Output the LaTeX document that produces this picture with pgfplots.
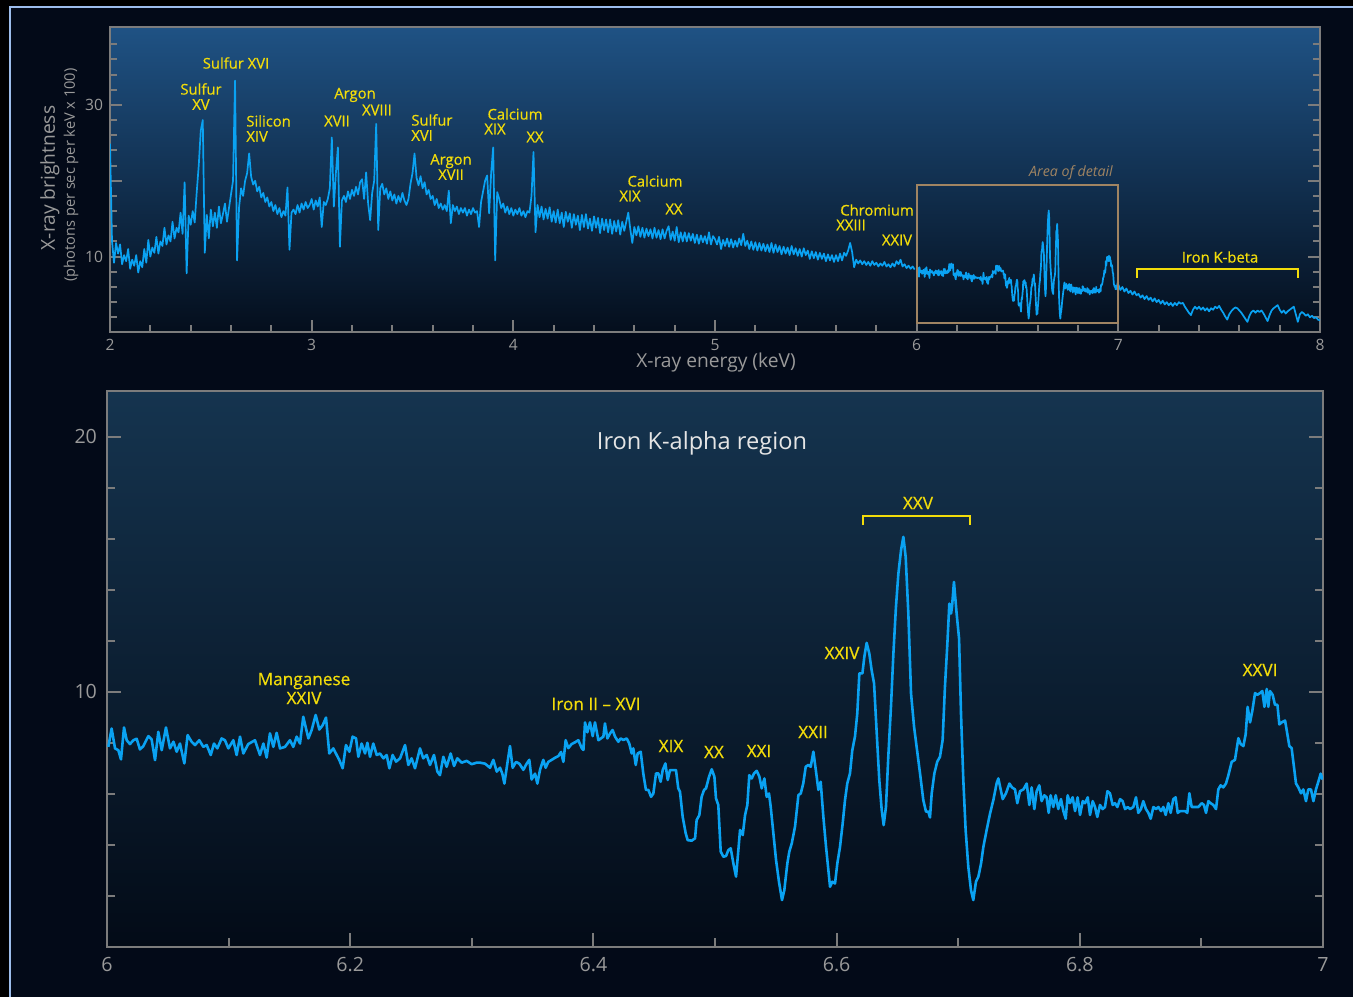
\documentclass[border=0pt]{standalone}
\usepackage{fontspec}
\setmainfont{Open Sans}
\newfontfamily\annfont{Open Sans}[FakeBold=0.5]
\usepackage{pgfplots}
\pgfplotsset{compat=1.18}
\usepackage{pgfplotstable}
\definecolor{bginner}{HTML}{030A18}
\definecolor{framec}{HTML}{9DBDEB}
\definecolor{axgray}{HTML}{7C7C7C}
\definecolor{tickgray}{HTML}{9A9A9A}
\definecolor{spec}{HTML}{0AA2F2}
\definecolor{ann}{HTML}{F2DC0A}
\definecolor{boxc}{HTML}{A08462}
\definecolor{toptop}{HTML}{1F5284}
\definecolor{topbot}{HTML}{040E1C}
\definecolor{lowtop}{HTML}{15344F}
\definecolor{lowbot}{HTML}{030B17}

\pgfplotstableread{
x y
2.00 24.9
2.01 12.0
2.02 9.2
2.03 11.8
2.04 10.4
2.05 11.6
2.06 9.0
2.07 10.2
2.08 9.4
2.09 11.0
2.10 8.4
2.11 9.6
2.12 8.8
2.13 10.2
2.14 7.9
2.15 9.4
2.16 8.6
2.17 11.0
2.18 9.2
2.19 12.2
2.20 10.0
2.21 11.2
2.22 10.5
2.23 12.6
2.24 10.4
2.25 12.0
2.26 11.4
2.27 13.8
2.28 11.6
2.29 12.8
2.30 12.0
2.31 14.6
2.32 12.4
2.33 13.8
2.34 13.2
2.35 15.8
2.36 13.0
2.37 19.8
2.38 7.8
2.39 15.4
2.40 14.2
2.41 16.0
2.42 14.5
2.43 18.5
2.44 22.0
2.45 26.6
2.46 28.0
2.47 10.5
2.48 15.5
2.49 12.4
2.50 16.2
2.51 14.0
2.52 15.8
2.53 13.8
2.54 16.6
2.55 14.4
2.56 15.6
2.57 17.0
2.58 14.6
2.59 16.4
2.60 18.2
2.61 20.0
2.62 33.2
2.63 9.5
2.64 16.5
2.65 19.0
2.66 18.0
2.67 20.0
2.68 21.0
2.69 23.6
2.70 20.5
2.71 19.5
2.72 20.0
2.73 18.6
2.74 19.2
2.75 17.8
2.76 18.4
2.77 17.2
2.78 17.8
2.79 16.6
2.80 17.2
2.81 16.0
2.82 16.8
2.83 15.6
2.84 16.4
2.85 15.2
2.86 16.0
2.87 15.4
2.88 19.1
2.89 10.9
2.90 15.8
2.91 16.2
2.92 15.6
2.93 16.8
2.94 15.8
2.95 17.0
2.96 16.2
2.97 17.2
2.98 16.4
2.99 16.8
3.00 17.6
3.01 16.2
3.02 17.4
3.03 16.6
3.04 17.8
3.05 13.9
3.06 17.2
3.07 16.8
3.08 17.6
3.09 19.0
3.10 25.7
3.11 16.6
3.12 21.0
3.13 24.4
3.14 11.3
3.15 17.4
3.16 18.0
3.17 17.2
3.18 18.6
3.19 17.6
3.20 18.8
3.21 18.0
3.22 19.2
3.23 18.2
3.24 19.8
3.25 20.2
3.26 17.6
3.27 21.1
3.28 17.0
3.29 14.8
3.30 18.4
3.31 20.0
3.32 27.5
3.33 13.5
3.34 19.0
3.35 19.6
3.36 18.2
3.37 19.0
3.38 17.6
3.39 18.6
3.40 17.4
3.41 18.2
3.42 17.0
3.43 18.0
3.44 17.2
3.45 18.4
3.46 17.4
3.47 16.8
3.48 17.6
3.49 19.6
3.50 21.0
3.51 23.6
3.52 20.4
3.53 19.4
3.54 20.6
3.55 19.0
3.56 19.8
3.57 18.2
3.58 18.8
3.59 17.6
3.60 18.0
3.61 16.8
3.62 17.6
3.63 16.4
3.64 17.0
3.65 16.2
3.66 16.8
3.67 16.0
3.68 18.7
3.69 14.4
3.70 16.8
3.71 16.0
3.72 16.6
3.73 15.6
3.74 16.4
3.75 15.8
3.76 16.4
3.77 15.4
3.78 16.2
3.79 15.6
3.80 16.4
3.81 15.8
3.82 16.0
3.83 13.9
3.84 17.2
3.85 18.6
3.86 20.0
3.87 20.7
3.88 15.7
3.89 21.0
3.90 24.4
3.91 9.5
3.92 18.5
3.93 17.6
3.94 16.4
3.95 17.0
3.96 15.8
3.97 16.6
3.98 15.6
3.99 16.4
4.00 15.4
4.01 16.2
4.02 15.6
4.03 16.4
4.04 15.4
4.05 16.0
4.06 15.2
4.07 16.0
4.08 15.8
4.09 18.0
4.10 23.8
4.11 13.2
4.12 16.8
4.13 15.2
4.14 16.6
4.15 14.9
4.16 16.3
4.17 15.0
4.18 16.5
4.19 14.6
4.20 16.0
4.21 14.5
4.22 16.2
4.23 14.4
4.24 15.8
4.25 13.9
4.26 15.9
4.27 14.6
4.28 15.7
4.29 13.8
4.30 15.6
4.31 14.2
4.32 15.4
4.33 13.5
4.34 15.5
4.35 13.9
4.36 15.6
4.37 13.7
4.38 15.0
4.39 13.4
4.40 15.3
4.41 13.8
4.42 15.1
4.43 13.1
4.44 15.0
4.45 13.5
4.46 14.9
4.47 13.2
4.48 14.9
4.49 13.0
4.50 14.7
4.51 13.3
4.52 14.8
4.53 12.9
4.54 14.6
4.55 13.4
4.56 14.6
4.57 15.8
4.58 13.6
4.59 11.8
4.60 13.9
4.61 12.8
4.62 14.0
4.63 12.6
4.64 13.8
4.65 12.5
4.66 13.7
4.67 12.7
4.68 13.6
4.69 12.4
4.70 13.8
4.71 12.5
4.72 13.5
4.73 12.3
4.74 13.6
4.75 12.4
4.76 13.4
4.77 14.0
4.78 12.2
4.79 13.3
4.80 12.1
4.81 13.9
4.82 11.9
4.83 13.2
4.84 12.0
4.85 13.2
4.86 12.0
4.87 13.1
4.88 12.1
4.89 13.0
4.90 11.8
4.91 12.9
4.92 11.7
4.93 12.8
4.94 11.9
4.95 12.7
4.96 11.7
4.97 13.2
4.98 11.6
4.99 12.7
5.00 12.3
5.01 11.6
5.02 12.6
5.03 11.0
5.04 12.2
5.05 11.4
5.06 12.4
5.07 11.3
5.08 12.3
5.09 11.2
5.10 12.1
5.11 11.3
5.12 12.4
5.13 11.5
5.14 13.0
5.15 11.4
5.16 12.1
5.17 11.0
5.18 12.0
5.19 10.9
5.20 11.9
5.21 10.8
5.22 11.8
5.23 10.8
5.24 11.7
5.25 10.7
5.26 11.6
5.27 10.6
5.28 11.8
5.29 10.5
5.30 11.6
5.31 10.6
5.32 11.4
5.33 10.3
5.34 11.3
5.35 10.4
5.36 11.2
5.37 10.2
5.38 11.4
5.39 10.3
5.40 11.1
5.41 10.1
5.42 11.0
5.43 10.0
5.44 11.1
5.45 10.2
5.46 10.8
5.47 9.7
5.48 10.7
5.49 9.8
5.50 10.6
5.51 9.6
5.52 10.5
5.53 9.7
5.54 10.4
5.55 9.4
5.56 10.3
5.57 9.5
5.58 10.2
5.59 9.3
5.60 10.2
5.61 9.4
5.62 10.4
5.63 9.5
5.64 10.5
5.65 10.1
5.66 10.8
5.67 11.8
5.68 10.6
5.69 8.6
5.70 9.6
5.71 9.1
5.72 9.5
5.73 9.0
5.74 9.4
5.75 8.9
5.76 9.3
5.77 8.8
5.78 9.4
5.79 8.9
5.80 9.2
5.81 8.7
5.82 9.1
5.83 8.8
5.84 9.3
5.85 8.7
5.86 9.0
5.87 8.6
5.88 9.1
5.89 8.7
5.90 9.4
5.91 9.0
5.92 9.6
5.93 8.7
5.94 9.0
5.95 8.5
5.96 8.8
5.97 8.4
5.98 8.7
5.99 8.3
}\topA

\pgfplotstableread{
x y
7.00 6.3
7.01 5.6
7.02 6.0
7.03 5.4
7.04 5.8
7.05 5.2
7.06 5.5
7.07 5.0
7.08 5.4
7.09 4.9
7.10 5.1
7.11 4.6
7.12 4.9
7.13 4.4
7.14 4.8
7.15 4.3
7.16 4.6
7.17 4.1
7.18 4.5
7.19 4.0
7.20 4.3
7.21 3.8
7.22 4.2
7.23 3.7
7.24 4.0
7.25 3.6
7.26 3.9
7.27 3.5
7.28 3.9
7.29 3.6
7.30 4.0
7.31 3.8
7.32 3.9
7.33 3.4
7.34 3.0
7.35 2.6
7.36 2.3
7.37 3.0
7.38 3.4
7.39 3.1
7.40 3.4
7.41 3.0
7.42 3.3
7.43 2.9
7.44 3.2
7.45 2.8
7.46 3.2
7.47 3.0
7.48 3.4
7.49 3.2
7.50 3.5
7.51 3.0
7.52 2.6
7.53 2.1
7.54 1.7
7.55 2.4
7.56 2.8
7.57 3.1
7.58 3.3
7.59 3.2
7.60 2.9
7.61 2.6
7.62 2.2
7.63 1.8
7.64 1.4
7.65 2.2
7.66 2.7
7.67 2.9
7.68 2.6
7.69 2.9
7.70 2.7
7.71 2.9
7.72 2.5
7.73 2.0
7.74 1.5
7.75 2.3
7.76 2.9
7.77 3.2
7.78 3.4
7.79 3.6
7.80 3.0
7.81 2.6
7.82 2.9
7.83 2.5
7.84 2.8
7.85 3.0
7.86 3.2
7.87 3.4
7.88 2.4
7.89 1.4
7.90 2.4
7.91 2.7
7.92 2.5
7.93 2.2
7.94 2.4
7.95 2.0
7.96 2.2
7.97 1.9
7.98 2.0
7.99 1.7
8.00 1.6
}\topB

\pgfplotstableread{
x y
6.0011 7.84
6.0038 8.56
6.0066 7.78
6.0093 7.71
6.0115 7.35
6.0140 8.60
6.0162 8.10
6.0189 7.95
6.0217 8.10
6.0244 8.16
6.0271 7.74
6.0299 7.87
6.0340 8.26
6.0367 8.13
6.0395 7.32
6.0422 8.43
6.0450 7.71
6.0485 8.60
6.0518 7.78
6.0546 8.04
6.0573 7.65
6.0600 7.97
6.0636 7.19
6.0663 8.30
6.0696 8.04
6.0724 7.91
6.0759 8.10
6.0792 7.84
6.0820 7.91
6.0853 7.52
6.0880 7.97
6.0907 7.78
6.0943 8.17
6.0970 8.10
6.0998 7.78
6.1039 8.10
6.1066 7.52
6.1094 8.24
6.1121 7.58
6.1162 7.95
6.1217 8.10
6.1258 7.52
6.1286 7.97
6.1313 7.42
6.1340 8.37
6.1368 7.84
6.1395 8.39
6.1423 7.78
6.1464 7.84
6.1505 8.10
6.1532 7.84
6.1560 8.24
6.1587 7.97
6.1614 9.02
6.1656 8.17
6.1683 8.50
6.1716 9.09
6.1746 8.52
6.1774 8.69
6.1801 8.99
6.1828 7.58
6.1861 7.78
6.1889 7.52
6.1911 7.32
6.1938 7.00
6.1965 7.91
6.1993 7.65
6.2020 8.24
6.2048 8.17
6.2067 7.45
6.2094 7.97
6.2122 7.58
6.2141 8.00
6.2163 7.45
6.2190 7.97
6.2218 7.52
6.2245 7.58
6.2273 7.39
6.2300 7.52
6.2322 7.00
6.2349 7.52
6.2377 7.26
6.2410 7.39
6.2451 7.91
6.2478 7.13
6.2505 7.39
6.2533 7.00
6.2574 7.78
6.2601 7.39
6.2629 7.52
6.2656 7.13
6.2689 7.52
6.2717 6.87
6.2738 6.73
6.2766 7.45
6.2793 7.06
6.2826 7.58
6.2854 7.09
6.2881 7.39
6.2917 7.22
6.2958 7.29
6.2999 7.16
6.3040 7.22
6.3067 7.22
6.3109 7.18
6.3150 7.02
6.3177 7.33
6.3205 6.87
6.3232 7.02
6.3251 6.79
6.3268 6.40
6.3292 7.18
6.3314 7.87
6.3336 7.02
6.3364 7.25
6.3391 7.18
6.3424 6.94
6.3451 7.18
6.3473 7.33
6.3492 6.56
6.3520 6.79
6.3539 6.40
6.3561 6.94
6.3588 7.33
6.3607 7.02
6.3629 7.25
6.3657 7.33
6.3684 7.41
6.3712 7.48
6.3734 7.64
6.3753 7.25
6.3772 8.10
6.3794 7.79
6.3821 7.95
6.3849 8.02
6.3876 8.10
6.3904 7.79
6.3918 7.72
6.3931 8.80
6.3950 8.41
6.3972 8.80
6.3994 8.26
6.4013 8.80
6.4041 8.10
6.4082 8.24
6.4095 8.76
6.4115 8.17
6.4137 8.37
6.4158 8.50
6.4178 8.24
6.4205 8.04
6.4224 8.17
6.4246 8.11
6.4274 8.17
6.4295 7.97
6.4315 7.58
6.4328 7.78
6.4348 7.13
6.4364 7.58
6.4389 7.65
6.4410 6.80
6.4432 6.15
6.4452 6.15
6.4474 5.88
6.4493 6.01
6.4515 6.80
6.4534 6.80
6.4553 6.47
6.4570 6.93
6.4592 7.19
6.4611 6.54
6.4630 6.93
6.4657 6.93
6.4679 6.93
6.4698 6.21
6.4712 6.08
6.4734 5.10
6.4759 4.45
6.4775 4.18
6.4808 4.16
6.4836 4.25
6.4849 4.97
6.4871 5.16
6.4890 5.88
6.4910 6.15
6.4926 6.21
6.4951 6.67
6.4973 6.96
6.4995 6.67
6.5008 5.82
6.5027 5.56
6.5047 3.73
6.5069 3.53
6.5091 3.56
6.5110 3.79
6.5129 3.86
6.5151 3.27
6.5173 2.75
6.5192 3.79
6.5206 4.58
6.5228 4.38
6.5247 5.16
6.5266 5.56
6.5282 6.73
6.5302 6.60
6.5321 6.80
6.5343 6.90
6.5365 6.67
6.5384 6.21
6.5406 6.60
6.5425 5.88
6.5444 6.01
6.5458 5.49
6.5480 4.45
6.5502 3.40
6.5526 2.55
6.5551 1.83
6.5570 2.22
6.5595 3.27
6.5611 3.73
6.5631 4.05
6.5658 4.71
6.5686 5.95
6.5705 6.01
6.5726 6.41
6.5746 7.06
6.5768 7.13
6.5787 7.06
6.5809 7.65
6.5831 6.86
6.5850 6.15
6.5869 6.47
6.5891 5.10
6.5913 3.92
6.5946 2.35
6.5965 2.55
6.5987 2.48
6.6006 3.27
6.6028 3.92
6.6050 4.84
6.6069 5.75
6.6088 6.41
6.6110 6.80
6.6129 7.71
6.6151 8.24
6.6170 9.15
6.6187 10.72
6.6212 10.72
6.6228 11.37
6.6247 11.92
6.6269 11.50
6.6288 10.85
6.6308 10.33
6.6330 8.37
6.6351 6.54
6.6371 5.36
6.6387 4.77
6.6406 5.49
6.6425 7.45
6.6447 9.41
6.6467 11.50
6.6488 13.33
6.6508 14.64
6.6530 15.56
6.6549 16.08
6.6568 15.29
6.6590 13.07
6.6612 9.94
6.6637 8.63
6.6658 7.84
6.6686 6.80
6.6713 5.75
6.6735 5.30
6.6754 5.30
6.6768 5.07
6.6782 6.01
6.6804 6.80
6.6828 7.26
6.6850 7.45
6.6872 8.11
6.6891 10.20
6.6911 11.90
6.6927 13.46
6.6941 13.07
6.6949 13.33
6.6965 14.31
6.6987 13.07
6.7007 12.09
6.7023 9.15
6.7042 6.54
6.7061 4.58
6.7083 3.14
6.7105 2.22
6.7124 1.83
6.7146 2.55
6.7166 2.75
6.7188 3.27
6.7207 3.92
6.7234 4.58
6.7262 5.23
6.7289 5.75
6.7316 6.41
6.7330 6.60
6.7366 5.79
6.7393 6.02
6.7421 6.40
6.7442 6.25
6.7467 6.17
6.7486 5.63
6.7508 6.10
6.7536 6.17
6.7563 6.40
6.7585 5.56
6.7604 6.25
6.7626 5.40
6.7645 6.10
6.7667 6.33
6.7686 5.71
6.7708 5.94
6.7727 5.86
6.7744 5.25
6.7760 5.94
6.7782 5.48
6.7802 5.94
6.7823 5.40
6.7845 5.79
6.7865 5.32
6.7884 5.02
6.7900 5.94
6.7919 5.63
6.7941 5.86
6.7961 5.32
6.7982 5.86
6.8002 5.17
6.8024 5.71
6.8043 5.63
6.8065 5.86
6.8084 5.17
6.8106 5.71
6.8125 5.48
6.8144 5.09
6.8166 5.56
6.8188 5.40
6.8207 5.48
6.8227 6.10
6.8248 6.02
6.8270 5.56
6.8289 5.63
6.8309 5.48
6.8331 5.79
6.8352 5.71
6.8372 5.40
6.8394 5.48
6.8413 5.40
6.8440 5.48
6.8462 5.86
6.8481 5.25
6.8503 5.40
6.8522 5.71
6.8544 5.40
6.8564 5.25
6.8583 5.02
6.8605 5.48
6.8627 5.40
6.8646 5.48
6.8668 5.32
6.8687 5.48
6.8706 5.17
6.8728 5.63
6.8747 5.25
6.8769 5.79
6.8788 5.86
6.8805 5.25
6.8824 5.32
6.8846 5.32
6.8865 5.32
6.8884 5.25
6.8901 6.02
6.8920 5.48
6.8947 5.48
6.8975 5.48
6.9002 5.63
6.9021 5.56
6.9038 5.25
6.9057 5.71
6.9076 5.63
6.9098 5.56
6.9120 5.40
6.9139 6.17
6.9158 6.33
6.9180 6.25
6.9202 6.40
6.9221 6.71
6.9249 7.25
6.9276 7.33
6.9304 8.18
6.9323 7.95
6.9345 7.87
6.9364 8.33
6.9380 9.41
6.9400 8.80
6.9419 9.26
6.9441 9.95
6.9460 9.88
6.9482 9.95
6.9501 10.03
6.9518 9.41
6.9537 10.11
6.9550 9.41
6.9564 10.03
6.9586 9.88
6.9605 9.49
6.9625 9.49
6.9641 8.72
6.9660 8.80
6.9688 8.87
6.9707 8.33
6.9723 7.87
6.9742 7.79
6.9756 7.25
6.9778 6.40
6.9797 6.25
6.9819 6.02
6.9838 6.17
6.9860 5.71
6.9879 6.17
6.9901 6.17
6.9921 5.71
6.9942 6.17
6.9962 6.48
6.9981 6.79
6.9997 6.56
}\lowdata

\begin{document}
\begin{tikzpicture}
\useasboundingbox (0,0) rectangle (676.5pt,498.5pt);
\fill[black] (0,0) rectangle (676.5pt,498.5pt);
\fill[bginner] (4.5pt,0) rectangle (676.5pt,495.5pt);
\draw[framec, line width=1.1pt] (4.9pt,0) -- (4.9pt,495.1pt) -- (676.5pt,495.1pt);

% ---------------- top axis ----------------
\begin{axis}[
  at={(55pt,332.25pt)}, anchor=south west,
  scale only axis, width=605pt, height=152.5pt,
  xmin=2, xmax=8, ymin=0, ymax=40.2,
  axis line style={axgray, line width=1pt},
  axis background/.style={top color=toptop, bottom color=topbot},
  xtick={2,3,4,5,6,7,8},
  minor xtick={2.2,2.4,2.6,2.8,3.2,3.4,3.6,3.8,4.2,4.4,4.6,4.8,5.2,5.4,5.6,5.8,6.2,6.4,6.6,6.8,7.2,7.4,7.6,7.8},
  ytick={10,20,30}, yticklabels={10,,30},
  minor ytick={2,4,6,8,12,14,16,18,22,24,26,28,32,34,36,38},
  tick align=inside, xtick pos=bottom, ytick pos=both,
  major tick length=6pt, minor tick length=3.6pt,
  tick style={axgray, line width=1pt},
  ticklabel style={tickgray, font=\fontsize{7.8}{9}\selectfont},
  xticklabel style={yshift=0pt},
  /pgf/number format/assume math mode=true,
  clip=true,
]
\addplot[spec, line width=0.85pt, line join=round] table[x=x,y=y] {\topA};
\addplot[spec, line width=0.85pt, line join=round] table[x=x,y=y] {\lowdata};
\addplot[spec, line width=0.85pt, line join=round] table[x=x,y=y] {\topB};
\draw[boxc, line width=1pt] (axis cs:6,1.2) rectangle (axis cs:7,19.5);
\end{axis}

% ---------------- lower axis ----------------
\begin{axis}[
  at={(53.5pt,25.15pt)}, anchor=south west,
  scale only axis, width=608pt, height=277.85pt,
  xmin=6, xmax=7, ymin=0, ymax=21.8,
  axis line style={axgray, line width=1pt},
  axis background/.style={top color=lowtop, bottom color=lowbot},
  xtick={6,6.2,6.4,6.6,6.8,7},
  minor xtick={6.1,6.3,6.5,6.7,6.9},
  ytick={10,20},
  minor ytick={2,4,6,8,12,14,16,18},
  tick align=inside, xtick pos=bottom, ytick pos=both,
  major tick length=7pt, minor tick length=4.2pt,
  tick style={axgray, line width=1pt},
  ticklabel style={tickgray, font=\fontsize{9.8}{11}\selectfont},
  xticklabel style={yshift=-2pt},
  yticklabel style={xshift=-1.5pt},
  /pgf/number format/assume math mode=true,
  clip=true,
]
\addplot[spec, line width=1.3pt, line join=round] table[x=x,y=y] {\lowdata};
\end{axis}

% ---------------- texts (pixel coordinates) ----------------
\begin{scope}[shift={(0,498.5pt)}, x=0.5pt, y=-0.5pt]
\tikzset{a/.style={text=ann, inner sep=0pt, font=\annfont\fontsize{7.4}{7.6}\selectfont, align=center},
         b/.style={text=ann, inner sep=0pt, font=\annfont\fontsize{8.6}{9.5}\selectfont, align=center}}
% axis labels
\node[text=tickgray, inner sep=0pt, font=\fontsize{9.6}{11}\selectfont] at (716,363) {X-ray energy (keV)};
\node[text=tickgray, inner sep=0pt, rotate=90, font=\fontsize{9.6}{11}\selectfont] at (50,178) {X-ray brightness};
\node[text=tickgray, inner sep=0pt, rotate=90, font=\fontsize{7.3}{9}\selectfont] at (71,175) {(photons per sec per keV x 100)};
% top annotations
\node[a] at (236,63) {Sulfur XVI};
\node[a] at (201,96.5) {Sulfur\\XV};
\node[a, anchor=west, align=left] at (246,128.5) {Silicon\\XIV};
\node[a] at (355,95) {Argon};
\node[a] at (337,121) {XVII};
\node[a] at (377,110) {XVIII};
\node[a, anchor=west, align=left] at (411,127.5) {Sulfur\\XVI};
\node[a] at (451,167) {Argon\\XVII};
\node[a] at (515,114) {Calcium};
\node[a] at (495,129) {XIX};
\node[a] at (535,137) {XX};
\node[a] at (655,181) {Calcium};
\node[a] at (630,196) {XIX};
\node[a] at (674,209) {XX};
\node[a] at (877,210) {Chromium};
\node[a] at (851,225) {XXIII};
\node[a] at (897,240) {XXIV};
\node[text=boxc, inner sep=0pt, font=\fontsize{7.1}{8}\selectfont\itshape] at (1071,173) {Area of detail};
\node[a] at (1220,257) {Iron K-beta};
\draw[ann, line width=1pt] (1137,278) -- (1137,269) -- (1298,269) -- (1298,278);
% lower annotations
\node[text=white!90!black, inner sep=0pt, font=\fontsize{11.8}{13}\selectfont] at (702,443) {Iron K-alpha region};
\node[b] at (304,688.5) {Manganese\\XXIV};
\node[b] at (596,704) {Iron II – XVI};
\node[b] at (671,746) {XIX};
\node[b] at (714,752) {XX};
\node[b] at (759,751) {XXI};
\node[b] at (813,732) {XXII};
\node[b] at (842,653) {XXIV};
\node[b] at (918,503) {XXV};
\draw[ann, line width=1pt] (863,525) -- (863,516) -- (970,516) -- (970,525);
\node[b] at (1260,670) {XXVI};
\end{scope}
\end{tikzpicture}
\end{document}
